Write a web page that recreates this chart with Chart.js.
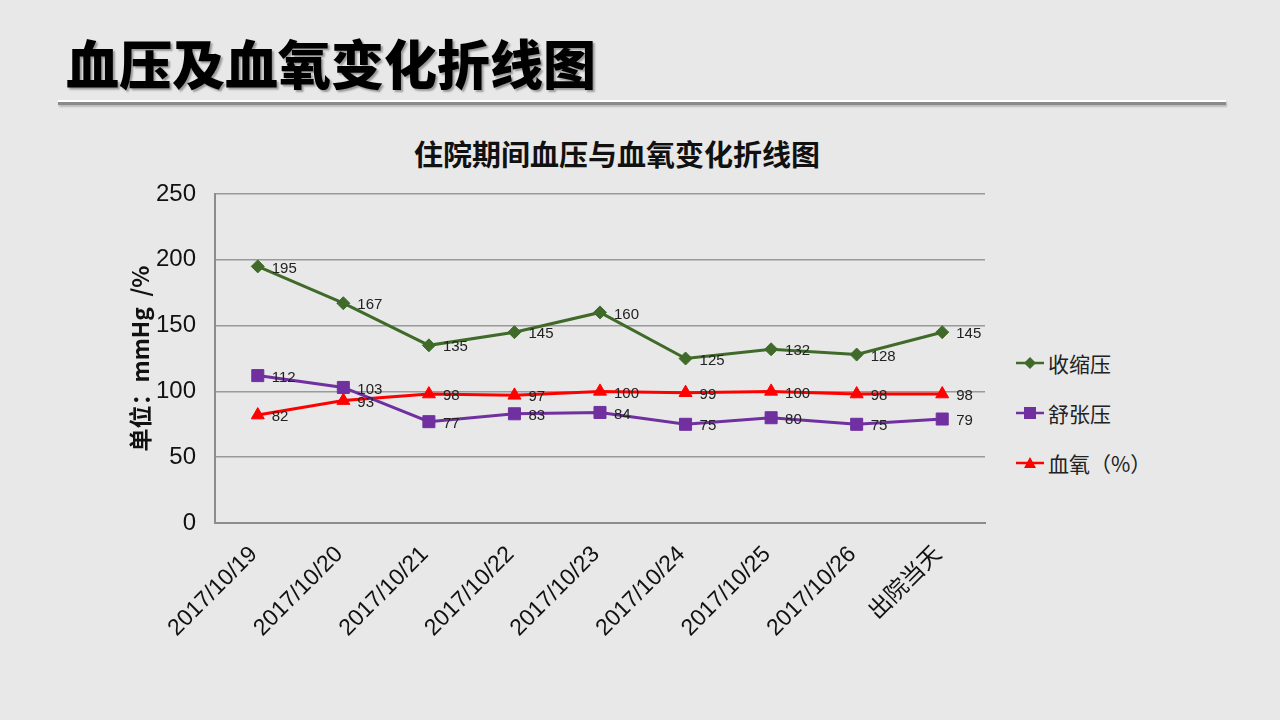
<!DOCTYPE html>
<html>
<head>
<meta charset="utf-8">
<script src="https://cdn.jsdelivr.net/npm/chart.js@4"></script>
<style>
  body { margin: 0; width: 1280px; height: 720px; background: #e8e8e8; overflow: hidden; position: relative;
         font-family: "Noto Sans CJK SC", "Liberation Sans", sans-serif; }
  #pageTitle { position: absolute; left: 66px; top: 24px; font-size: 53px; font-weight: 900; color: #000;
               text-shadow: 2px 2px 2px rgba(0,0,0,0.35); line-height: 76px; }
  #rule { position: absolute; left: 58px; top: 100px; width: 1168px; height: 2px; background: #fff;
          border-bottom: 3px solid #8a8a8a; box-shadow: 1px 2px 2px rgba(0,0,0,0.2); }
  #chartTitle { position: absolute; left: 0; width: 1234px; top: 132px; text-align: center; font-size: 29px;
                font-weight: bold; color: #111; }
  #chartBox { position: absolute; left: 120px; top: 180px; width: 875px; height: 480px; }
  #legend { position: absolute; left: 1016px; top: 348px; }
  .item { height: 50px; display: flex; align-items: flex-start; font-size: 21px; color: #222; }
  .item svg { margin-top: 5px; margin-right: 2px; }
</style>
</head>
<body>
<div id="pageTitle">血压及血氧变化折线图</div>
<div id="rule"></div>
<div id="chartTitle">住院期间血压与血氧变化折线图</div>
<div id="chartBox"><canvas id="bpChart"></canvas></div>
<div id="legend"></div>
<script>
// categories and series
var dates = ['2017/10/19', '2017/10/20', '2017/10/21', '2017/10/22', '2017/10/23',
             '2017/10/24', '2017/10/25', '2017/10/26', '出院当天'];
var systolic = [195, 167, 135, 145, 160, 125, 132, 128, 145];
var diastolic = [112, 103, 77, 83, 84, 75, 80, 75, 79];
var oxygen = [82, 93, 98, 97, 100, 99, 100, 98, 98];
var yTicks = [0, 50, 100, 150, 200, 250];
var seriesNames = ['收缩压', '舒张压', '血氧（%）'];
var seriesColors = ['#3f6a2a', '#7030a0', '#ff0000'];
var seriesMarkers = ['rectRot', 'rect', 'triangle'];
var markerRadius = [6.5, 8.5, 7.5];

var pointLabels = {
  id: 'pointLabels',
  afterDatasetsDraw: function (chart) {
    var ctx = chart.ctx;
    ctx.save();
    ctx.font = '15px "Liberation Sans", Arial, sans-serif';
    ctx.fillStyle = '#222';
    ctx.textAlign = 'left';
    ctx.textBaseline = 'middle';
    chart.data.datasets.forEach(function (ds, i) {
      var meta = chart.getDatasetMeta(i);
      meta.data.forEach(function (pt, j) {
        ctx.fillText(String(ds.data[j]), pt.x + 14, pt.y + 2);
      });
    });
    ctx.restore();
  }
};

function makeDataset(idx, values) {
  return {
    label: seriesNames[idx],
    data: values,
    borderColor: seriesColors[idx],
    backgroundColor: seriesColors[idx],
    borderWidth: 3,
    pointStyle: seriesMarkers[idx],
    pointRadius: markerRadius[idx],
    pointBorderWidth: 1,
    pointHoverRadius: markerRadius[idx],
    tension: 0
  };
}

function renderChart() {
  var ctx = document.getElementById('bpChart').getContext('2d');
  var config = {
    type: 'line',
    data: {
      labels: dates,
      datasets: [makeDataset(0, systolic), makeDataset(1, diastolic), makeDataset(2, oxygen)]
    },
    options: {
      responsive: true,
      maintainAspectRatio: false,
      animation: false,
      layout: { padding: { top: 14, right: 10, left: 0, bottom: 0 } },
      plugins: { legend: { display: false }, tooltip: { enabled: false } },
      scales: {
        x: {
          offset: true,
          grid: { display: false, drawTicks: false },
          border: { color: '#8c8c8c', width: 2 },
          ticks: {
            maxRotation: 45, minRotation: 45, padding: 18, labelOffset: -4, color: '#111',
            font: { family: '"Liberation Sans", "Noto Sans CJK SC", sans-serif', size: 23 }
          },
          afterFit: function (scale) {
            scale.height = 137;
            scale.paddingLeft = 0;
            scale.paddingRight = 0;
          }
        },
        y: {
          min: 0, max: 250,
          afterBuildTicks: function (scale) {
            scale.ticks = yTicks.map(function (v) { return { value: v }; });
          },
          grid: { color: '#9a9a9a', lineWidth: 1.5, drawTicks: false },
          border: { color: '#8c8c8c', width: 2 },
          ticks: {
            padding: 19, color: '#111',
            font: { family: '"Liberation Sans", Arial, sans-serif', size: 24 }
          },
          title: {
            display: true, text: '单位：mmHg  /%', color: '#111',
            font: { family: '"Noto Sans CJK SC", sans-serif', size: 23, weight: 'bold' },
            padding: { top: 6, bottom: 0 }
          },
          afterFit: function (scale) {
            scale.width = 95;
            scale.paddingTop = 0;
            scale.paddingBottom = 0;
          }
        }
      }
    },
    plugins: [pointLabels]
  };
  return new Chart(ctx, config);
}

function markerSvg(idx) {
  var c = seriesColors[idx];
  var shape;
  if (seriesMarkers[idx] === 'rectRot') {
    shape = '<polygon points="14,4 20,10 14,16 8,10" fill="' + c + '"/>';
  } else if (seriesMarkers[idx] === 'rect') {
    shape = '<rect x="8" y="4" width="12" height="12" fill="' + c + '"/>';
  } else {
    shape = '<polygon points="14,4 20,15 8,15" fill="' + c + '"/>';
  }
  return '<svg width="30" height="20"><line x1="0" y1="10" x2="28" y2="10" stroke="' + c +
         '" stroke-width="2.5"/>' + shape + '</svg>';
}

function renderLegend() {
  var el = document.getElementById('legend');
  var html = '';
  for (var i = 0; i < seriesNames.length; i++) {
    html += '<div class="item">' + markerSvg(i) + '<span>' + seriesNames[i] + '</span></div>';
  }
  el.innerHTML = html;
}

renderChart();
renderLegend();
</script>
</body>
</html>
